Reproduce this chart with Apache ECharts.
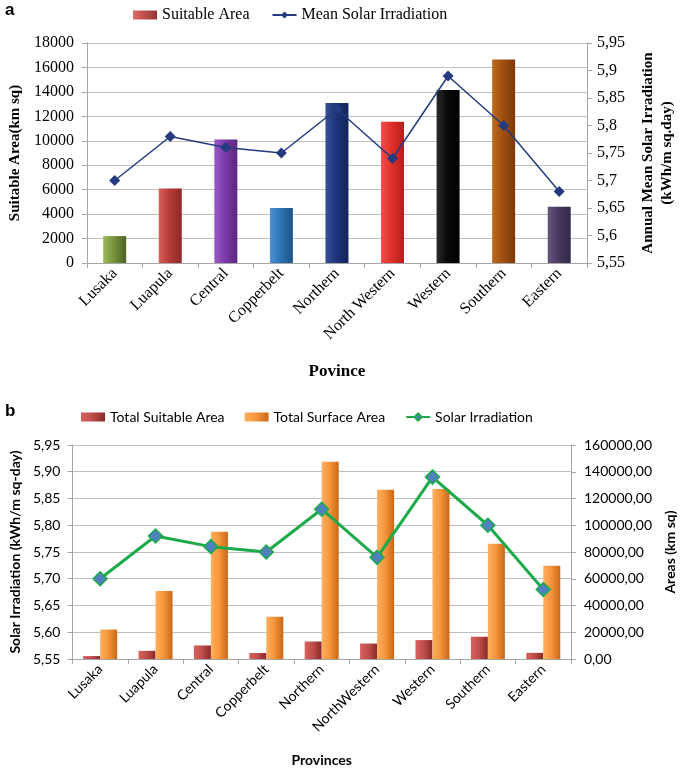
<!DOCTYPE html>
<html><head><meta charset="utf-8">
<script src="https://cdn.jsdelivr.net/npm/echarts@6/dist/echarts.min.js"></script>
<style>html,body{margin:0;padding:0;background:#fff}#c{width:685px;height:769px}</style>
</head><body><div id="c"></div>
<script>
const provincesA = ['Lusaka','Luapula','Central','Copperbelt','Northern','North Western','Western','Southern','Eastern'];
const provincesB = ['Lusaka','Luapula','Central','Copperbelt','Northern','NorthWestern','Western','Southern','Eastern'];
const suitableArea = [2200, 6100, 10100, 4500, 13100, 11550, 14150, 16650, 4600];
const meanIrradiation = [5.70, 5.78, 5.76, 5.75, 5.83, 5.74, 5.89, 5.80, 5.68];
const totalSuitableArea = [2200, 6100, 10100, 4500, 13100, 11550, 14150, 16650, 4600];
const totalSurfaceArea = [22000, 50800, 95200, 31600, 147500, 126600, 127100, 86200, 69800];
const solarIrradiation = [5.70, 5.78, 5.76, 5.75, 5.83, 5.74, 5.89, 5.80, 5.68];
const barColorsA = [['#9BBB59','#77933C','#4F6228'],['#D9605C','#B83B38','#8C2A27'],['#9A5CC8','#7B3AA8','#5A2580'],['#4A95D6','#2E75B6','#1E5386'],['#35509A','#1F3479','#15245A'],['#F0504A','#E0302A','#B0201C'],['#2A2A2A','#0A0A0A','#000000'],['#C06A20','#A0500F','#7A3A08'],['#665680','#4A3A62','#33284A']];

function grad(c){return new echarts.graphic.LinearGradient(0,0,1,0,[{offset:0,color:c[0]},{offset:0.45,color:c[1]},{offset:1,color:c[2]}]);}
const serif = '"Liberation Serif","Times New Roman",serif';
const sans = 'Lato,"Open Sans",sans-serif';
const plain = v => String(v);
const comma = v => String(+v.toFixed(2)).replace('.',',');
const comma2 = v => v.toFixed(2).replace('.',',');
const gridLine = {show:true,lineStyle:{color:'#BFBFBF'}};
const axLine = {show:true,lineStyle:{color:'#A6A6A6'}};

const chart = echarts.init(document.getElementById('c'));
chart.setOption({
  animation:false,
  graphic:[
    {type:'text',left:5,top:2,style:{text:'a',font:'bold 17px Arial, sans-serif',fill:'#000'}},
    {type:'text',left:5,top:403,style:{text:'b',font:'bold 17px Arial, sans-serif',fill:'#000'}}
  ],
  legend:[
    {top:2,left:128,itemWidth:24,itemHeight:9,itemGap:22,textStyle:{fontFamily:serif,fontSize:16,color:'#000'},
     data:[{name:'Suitable Area',icon:'rect'},{name:'Mean Solar Irradiation'}]},
    {top:405,left:76,itemWidth:24,itemHeight:9,itemGap:20,textStyle:{fontFamily:sans,fontSize:14,color:'#000'},
     data:[{name:'Total Suitable Area',icon:'rect'},{name:'Total Surface Area',icon:'rect'},{name:'Solar Irradiation'}]}
  ],
  grid:[
    {left:82,right:92,top:43,height:220},
    {left:65,right:107,top:445,height:214}
  ],
  xAxis:[
    {type:'category',gridIndex:0,data:provincesA,axisLine:axLine,axisTick:{show:true,lineStyle:{color:'#A6A6A6'},length:5},
     axisLabel:{rotate:45,fontFamily:serif,fontSize:16,color:'#000',margin:8,interval:0},
     name:'Povince',nameLocation:'middle',nameGap:100,nameTextStyle:{fontFamily:serif,fontSize:17,fontWeight:'bold',color:'#000'}},
    {type:'category',gridIndex:1,data:provincesB,axisLine:axLine,axisTick:{show:true,lineStyle:{color:'#A6A6A6'},length:5},
     axisLabel:{rotate:45,fontFamily:sans,fontSize:14,color:'#000',margin:8,interval:0},
     name:'Provinces',nameLocation:'middle',nameGap:94,nameTextStyle:{fontFamily:sans,fontSize:14,fontWeight:'bold',color:'#000'}}
  ],
  yAxis:[
    {type:'value',gridIndex:0,min:0,max:18000,interval:2000,splitLine:gridLine,axisLine:axLine,axisTick:{show:true,length:5,lineStyle:{color:'#A6A6A6'}},
     axisLabel:{fontFamily:serif,fontSize:16,color:'#000',margin:13,formatter:plain},
     name:'Suitable Area(km sq)',nameLocation:'middle',nameGap:63,nameTextStyle:{fontFamily:serif,fontSize:15,fontWeight:'bold',color:'#000'}},
    {type:'value',gridIndex:0,position:'right',min:5.55,max:5.95,interval:0.05,splitLine:{show:false},axisLine:axLine,axisTick:{show:true,length:5,lineStyle:{color:'#A6A6A6'}},
     axisLabel:{fontFamily:serif,fontSize:16,color:'#000',margin:10,formatter:comma},
     name:'Annual Mean Solar Irradiation\n(kWh/m sq.day)',nameLocation:'middle',nameGap:52,nameTextStyle:{fontFamily:serif,fontSize:15,fontWeight:'bold',color:'#000',lineHeight:19}},
    {type:'value',gridIndex:1,min:5.55,max:5.95,interval:0.05,splitLine:gridLine,axisLine:axLine,axisTick:{show:true,length:5,lineStyle:{color:'#A6A6A6'}},
     axisLabel:{fontFamily:sans,fontSize:14,color:'#000',margin:12,formatter:comma2},
     name:'Solar Irradiation (kWh/m sq-day)',nameLocation:'middle',nameGap:47,nameTextStyle:{fontFamily:sans,fontSize:14,fontWeight:'bold',color:'#000'}},
    {type:'value',gridIndex:1,position:'right',min:0,max:160000,interval:20000,splitLine:{show:false},axisLine:axLine,axisTick:{show:true,length:5,lineStyle:{color:'#A6A6A6'}},
     axisLabel:{fontFamily:sans,fontSize:14,color:'#000',margin:13,formatter:comma2},
     name:'Areas (km sq)',nameLocation:'middle',nameGap:88,nameTextStyle:{fontFamily:sans,fontSize:14,fontWeight:'bold',color:'#000'}}
  ],
  series:[
    {name:'Suitable Area',type:'bar',xAxisIndex:0,yAxisIndex:0,barWidth:23,
     itemStyle:{color:grad(['#E06B67','#C0504D','#943634'])},
     data:suitableArea.map((v,i)=>({value:v,itemStyle:{color:grad(barColorsA[i])}}))},
    {name:'Mean Solar Irradiation',type:'line',xAxisIndex:0,yAxisIndex:1,data:meanIrradiation,
     symbol:'diamond',symbolSize:11,lineStyle:{color:'#253A7F',width:1.5},itemStyle:{color:'#253A7F'}},
    {name:'Total Suitable Area',type:'bar',xAxisIndex:1,yAxisIndex:3,barWidth:17,barGap:'0%',
     itemStyle:{color:grad(['#D9605C','#C0504D','#8C2A27'])},data:totalSuitableArea},
    {name:'Total Surface Area',type:'bar',xAxisIndex:1,yAxisIndex:3,barWidth:17,barGap:'0%',
     itemStyle:{color:grad(['#FBB060','#F7963C','#C86818'])},data:totalSurfaceArea},
    {name:'Solar Irradiation',type:'line',xAxisIndex:1,yAxisIndex:2,data:solarIrradiation,z:5,
     symbol:'diamond',symbolSize:14,lineStyle:{color:'#1DAA4A',width:3},itemStyle:{color:'#4F81BD',borderColor:'#1DAA4A',borderWidth:1.5}}
  ]
});
</script></body></html>
